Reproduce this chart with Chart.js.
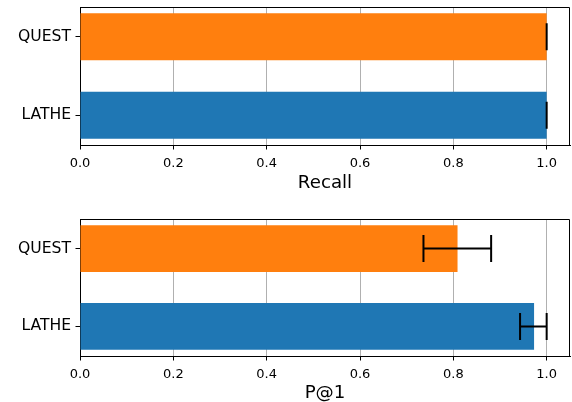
<!DOCTYPE html>
<html>
<head>
<meta charset="utf-8">
<script src="https://cdn.jsdelivr.net/npm/chart.js@4.4.0/dist/chart.umd.min.js"></script>
<style>
html, body { margin: 0; padding: 0; background: #fff; }
.panel { position: absolute; left: 0; width: 572px; height: 201px; }
</style>
</head>
<body>
<div class="panel" style="top:0"><canvas id="recallChart" width="572" height="201"></canvas></div>
<div class="panel" style="top:201px"><canvas id="p1Chart" width="572" height="201"></canvas></div>
<script>
const categories = ['LATHE', 'QUEST'];
const barColors = ['#1f77b4', '#ff7f0e'];
const xTicks = [0, 0.2, 0.4, 0.6, 0.8, 1.0];

const recallValues = [1.0, 1.0];
const recallErrLow = [0, 0];
const recallErrHigh = [0, 0];

const p1Values = [0.973, 0.809];
const p1ErrLow = [0.03, 0.073];
const p1ErrHigh = [0.027, 0.072];

const FONT = 'DejaVu Sans';

// error bars drawn from the x/y scales
const errorBars = {
    id: 'errorBars',
    afterDatasetsDraw(chart, args, opts) {
        const ctx = chart.ctx;
        const x = chart.scales.x, y = chart.scales.y;
        const cap = 13.5;
        ctx.save();
        ctx.strokeStyle = '#000';
        ctx.lineWidth = 2;
        opts.values.forEach((v, i) => {
            const yc = y.getPixelForValue(i);
            const x0 = x.getPixelForValue(v - opts.low[i]);
            const x1 = x.getPixelForValue(v + opts.high[i]);
            ctx.beginPath();
            ctx.moveTo(x0, yc); ctx.lineTo(x1, yc);
            ctx.moveTo(x0, yc - cap); ctx.lineTo(x0, yc + cap);
            ctx.moveTo(x1, yc - cap); ctx.lineTo(x1, yc + cap);
            ctx.stroke();
        });
        ctx.restore();
    }
};

// top and right spines
const frame = {
    id: 'frame',
    afterDraw(chart) {
        const {ctx, chartArea: a} = chart;
        ctx.save();
        ctx.strokeStyle = '#000';
        ctx.lineWidth = 1;
        ctx.beginPath();
        ctx.moveTo(Math.round(a.left) + 0.5, Math.round(a.top) + 0.5);
        ctx.lineTo(Math.round(a.right) - 0.5, Math.round(a.top) + 0.5);
        ctx.lineTo(Math.round(a.right) - 0.5, Math.round(a.bottom) + 0.5);
        ctx.stroke();
        ctx.restore();
    }
};

function makeChart(id, values, low, high, label, cfg) {
    return new Chart(document.getElementById(id), {
        type: 'bar',
        data: {
            datasets: [{
                data: categories.map((c, i) => ({x: values[i], y: i})),
                backgroundColor: barColors,
                borderWidth: 0,
                categoryPercentage: 0.6,
                barPercentage: 1
            }]
        },
        options: {
            indexAxis: 'y',
            responsive: false,
            animation: false,
            devicePixelRatio: 1,
            layout: { padding: { top: cfg.top, right: 2, left: 0, bottom: 0 } },
            plugins: {
                legend: { display: false },
                tooltip: { enabled: false },
                errorBars: { values: values, low: low, high: high }
            },
            scales: {
                x: {
                    type: 'linear',
                    min: 0,
                    max: 1.05,
                    z: 1,
                    afterBuildTicks: s => { s.ticks = xTicks.map(v => ({value: v})); },
                    afterFit: s => { s.height = cfg.xHeight; s.paddingLeft = 0; s.paddingRight = 0; },
                    ticks: {
                        color: '#000',
                        padding: 6,
                        font: { family: FONT, size: 13 },
                        callback: v => v.toFixed(1)
                    },
                    grid: { color: '#b0b0b0', lineWidth: 1, tickColor: '#000', tickLength: 4.5, tickWidth: 1 },
                    border: { color: '#000', width: 1 },
                    title: {
                        display: true,
                        text: label,
                        color: '#000',
                        font: { family: FONT, size: 18.2 },
                        padding: { top: 0, bottom: cfg.titlePad }
                    }
                },
                y: {
                    type: 'linear',
                    min: -0.38,
                    max: 1.38,
                    offset: false,
                    afterBuildTicks: s => { s.ticks = categories.map((c, i) => ({value: i})); },
                    afterFit: s => { s.width = 80; s.paddingTop = 0; s.paddingBottom = 0; },
                    ticks: {
                        color: '#000',
                        padding: 4.5,
                        font: { family: FONT, size: 15.6 },
                        callback: v => categories[v]
                    },
                    grid: { offset: false, drawOnChartArea: false, color: '#000', tickLength: 4.5, lineWidth: 1 },
                    border: { color: '#000', width: 1 }
                }
            }
        },
        plugins: [errorBars, frame]
    });
}

makeChart('recallChart', recallValues, recallErrLow, recallErrHigh, 'Recall', { top: 7, xHeight: 56, titlePad: 7 });
makeChart('p1Chart', p1Values, p1ErrLow, p1ErrHigh, 'P@1', { top: 18, xHeight: 46, titlePad: -2 });
</script>
</body>
</html>
